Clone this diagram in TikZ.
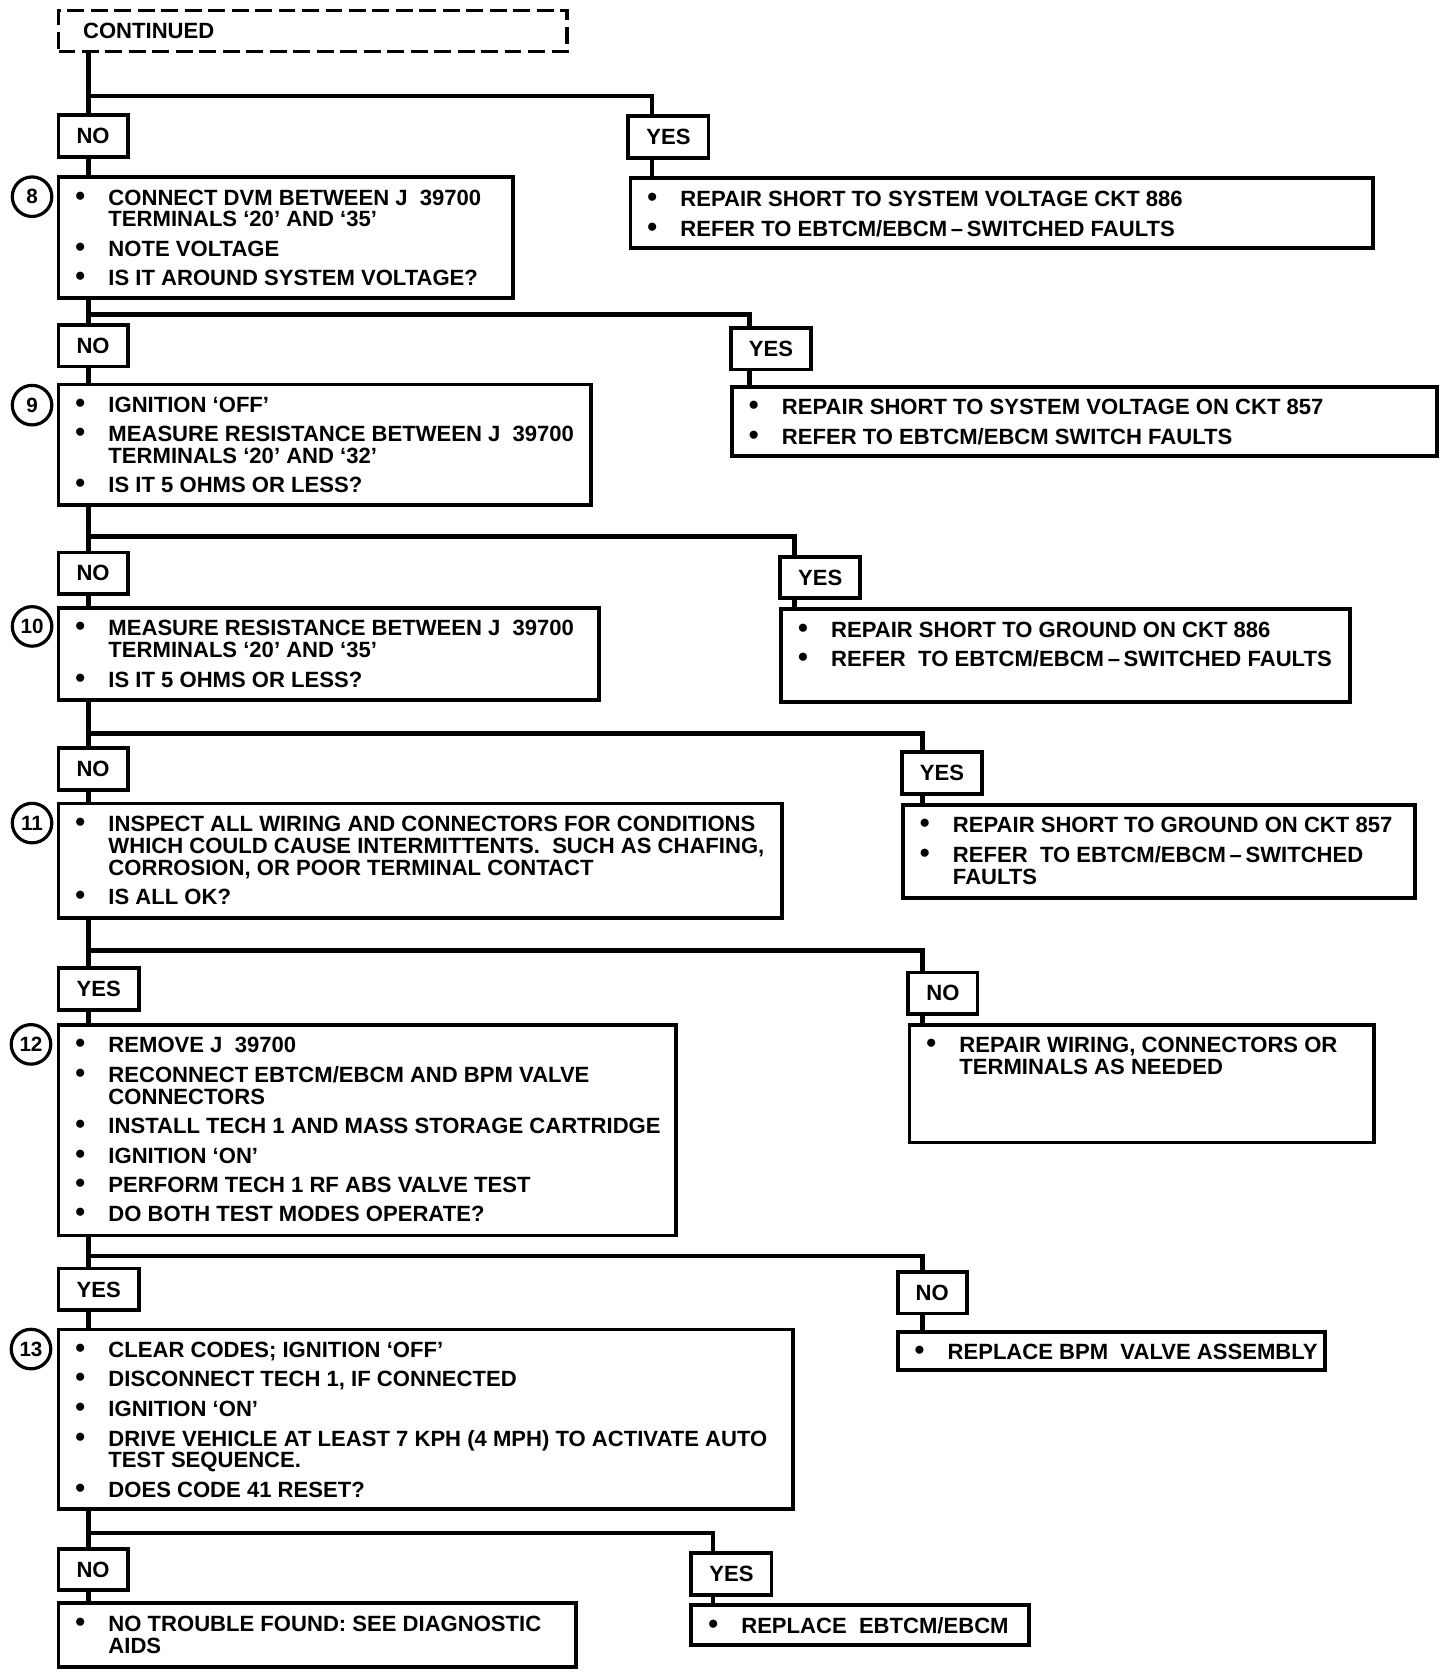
\documentclass[tikz,border=0pt]{standalone}
\usepackage{fontspec}
\setmainfont{Liberation Sans}
\usepackage{tikz}

\newcommand{\bul}{\makebox[17.6pt][l]{\fontsize{15}{11.34}\selectfont\textbullet}}
\newcommand{\boxtext}[3]{\parbox[c][#2][t]{#1}{\vspace*{6.7pt}\noindent\begin{tabular}[t]{@{\hspace{9pt}}l@{}l@{}}#3\end{tabular}}}

\tikzset{
  every node/.style={font=\fontsize{11.75}{11.34}\selectfont\bfseries},
  stepbox/.style={draw, line width=2pt, inner sep=0pt, anchor=north west},
  answer/.style={draw, line width=2pt, inner xsep=9.6pt, inner ysep=0pt, minimum height=0.78cm, anchor=north west},
  contbox/.style={draw, dash pattern=on 9pt off 3.5pt, line width=2pt, anchor=north west, text width=8.6cm, inner xsep=0.46cm, minimum height=0.77cm, align=left},
  stepnum/.style={draw, circle, line width=1.7pt, inner sep=0pt, minimum size=0.74cm, font=\fontsize{11}{11}\selectfont\bfseries},
  flow/.style={line width=2.4pt}
}

\begin{document}
\begin{tikzpicture}[x=0.02cm,y=-0.02cm]
  \useasboundingbox (0,0) rectangle (1362,1566);
  \node[contbox] (cont) at (53,8) {CONTINUED};
  % step 8
  \node[answer] (no8) at (53,106) {NO};
  \node[answer] (yes8) at (586,107) {YES};
  \node[stepnum] (n8) at (30,184) {8};
  \node[stepbox] (s8) at (53,164) {\boxtext{8.5cm}{2.26cm}{\bul & CONNECT DVM BETWEEN J\ \ 39700\\ & TERMINALS `20' AND `35'\\[4pt] \bul & NOTE VOLTAGE\\[4pt] \bul & IS IT AROUND SYSTEM VOLTAGE?}};
  \node[stepbox] (r8) at (588,165) {\boxtext{13.9cm}{1.3cm}{\bul & REPAIR SHORT TO SYSTEM VOLTAGE CKT 886\\[4pt] \bul & REFER TO EBTCM/EBCM\,--\,SWITCHED FAULTS}};
  % step 9
  \node[answer] (no9) at (53,302) {NO};
  \node[answer] (yes9) at (682,305) {YES};
  \node[stepnum] (n9) at (30,379) {9};
  \node[stepbox] (s9) at (53,358) {\boxtext{9.96cm}{2.26cm}{\bul & IGNITION `OFF'\\[4pt] \bul & MEASURE RESISTANCE BETWEEN J\ \ 39700\\ & TERMINALS `20' AND `32'\\[4pt] \bul & IS IT 5 OHMS OR LESS?}};
  \node[stepbox] (r9) at (683,360) {\boxtext{13.2cm}{1.3cm}{\bul & REPAIR SHORT TO SYSTEM VOLTAGE ON CKT 857\\[4pt] \bul & REFER TO EBTCM/EBCM SWITCH FAULTS}};
  % step 10
  \node[answer] (no10) at (53,515) {NO};
  \node[answer] (yes10) at (728,519) {YES};
  \node[stepnum] (n10) at (30,586) {10};
  \node[stepbox] (s10) at (53,567) {\boxtext{10.12cm}{1.72cm}{\bul & MEASURE RESISTANCE BETWEEN J\ \ 39700\\ & TERMINALS `20' AND `35'\\[4pt] \bul & IS IT 5 OHMS OR LESS?}};
  \node[stepbox] (r10) at (729,568) {\boxtext{10.64cm}{1.74cm}{\bul & REPAIR SHORT TO GROUND ON CKT 886\\[4pt] \bul & REFER\ \ TO EBTCM/EBCM\,--\,SWITCHED FAULTS}};
  % step 11
  \node[answer] (no11) at (53,698) {NO};
  \node[answer] (yes11) at (842,702) {YES};
  \node[stepnum] (n11) at (30,770) {11};
  \node[stepbox] (s11) at (53,750) {\boxtext{13.54cm}{2.14cm}{\bul & INSPECT ALL WIRING AND CONNECTORS FOR CONDITIONS\\ & WHICH COULD CAUSE INTERMITTENTS.\ \ SUCH AS CHAFING,\\ & CORROSION, OR POOR TERMINAL CONTACT\\[4pt] \bul & IS ALL OK?}};
  \node[stepbox] (r11) at (843,751) {\boxtext{9.58cm}{1.74cm}{\bul & REPAIR SHORT TO GROUND ON CKT 857\\[4pt] \bul & REFER\ \ TO EBTCM/EBCM\,--\,SWITCHED\\ & FAULTS}};
  % step 12
  \node[answer] (yes12) at (53,904) {YES};
  \node[answer] (no12) at (848,908) {NO};
  \node[stepnum] (n12) at (29,977) {12};
  \node[stepbox] (s12) at (53,957) {\boxtext{11.56cm}{3.94cm}{\bul & REMOVE J\ \ 39700\\[4pt] \bul & RECONNECT EBTCM/EBCM AND BPM VALVE\\ & CONNECTORS\\[4pt] \bul & INSTALL TECH 1 AND MASS STORAGE CARTRIDGE\\[4pt] \bul & IGNITION `ON'\\[4pt] \bul & PERFORM TECH 1 RF ABS VALVE TEST\\[4pt] \bul & DO BOTH TEST MODES OPERATE?}};
  \node[stepbox] (r12) at (849,957) {\boxtext{8.7cm}{2.2cm}{\bul & REPAIR WIRING, CONNECTORS OR\\ & TERMINALS AS NEEDED}};
  % step 13
  \node[answer] (yes13) at (53,1185) {YES};
  \node[answer] (no13) at (838,1188) {NO};
  \node[stepnum] (n13) at (29,1262) {13};
  \node[stepbox] (s13) at (53,1242) {\boxtext{13.74cm}{3.36cm}{\bul & CLEAR CODES; IGNITION `OFF'\\[4pt] \bul & DISCONNECT TECH 1, IF CONNECTED\\[4pt] \bul & IGNITION `ON'\\[4pt] \bul & DRIVE VEHICLE AT LEAST 7 KPH (4 MPH) TO ACTIVATE AUTO\\ & TEST SEQUENCE.\\[4pt] \bul & DOES CODE 41 RESET?}};
  \node[stepbox] (r13) at (838,1244) {\boxtext{8.0cm}{0.72cm}{\bul & REPLACE BPM\ \ VALVE ASSEMBLY}};
  % last answers
  \node[answer] (no14) at (53,1447) {NO};
  \node[answer] (yes14) at (645,1451) {YES};
  \node[stepbox] (rno) at (53,1498) {\boxtext{9.68cm}{1.2cm}{\bul & NO TROUBLE FOUND: SEE DIAGNOSTIC\\ & AIDS}};
  \node[stepbox] (ryes) at (645,1500) {\boxtext{6.32cm}{0.74cm}{\bul & REPLACE\ \ EBTCM/EBCM}};
  % junctions
  \coordinate (j1) at (83,90);   \coordinate (k1) at (610,90);
  \coordinate (j2) at (83,294);  \coordinate (k2) at (701,294);
  \coordinate (j3) at (83,502);  \coordinate (k3) at (743,502);
  \coordinate (j4) at (83,686);  \coordinate (k4) at (863,686);
  \coordinate (j5) at (83,889);  \coordinate (k5) at (863,889);
  \coordinate (j6) at (83,1175); \coordinate (k6) at (863,1175);
  \coordinate (j7) at (83,1434); \coordinate (k7) at (667,1434);
  % trunk and branches
  \draw[flow] (cont.south -| j1) -- (no8.north -| j1);
  \draw[flow] (j1) -- (k1) -- (yes8.north -| k1);
  \draw[flow] (no8.south -| j1) -- (s8.north -| j1);
  \draw[flow] (yes8.south -| k1) -- (r8.north -| k1);
  \draw[flow] (s8.south -| j2) -- (no9.north -| j2);
  \draw[flow] (j2) -- (k2) -- (yes9.north -| k2);
  \draw[flow] (no9.south -| j2) -- (s9.north -| j2);
  \draw[flow] (yes9.south -| k2) -- (r9.north -| k2);
  \draw[flow] (s9.south -| j3) -- (no10.north -| j3);
  \draw[flow] (j3) -- (k3) -- (yes10.north -| k3);
  \draw[flow] (no10.south -| j3) -- (s10.north -| j3);
  \draw[flow] (yes10.south -| k3) -- (r10.north -| k3);
  \draw[flow] (s10.south -| j4) -- (no11.north -| j4);
  \draw[flow] (j4) -- (k4) -- (yes11.north -| k4);
  \draw[flow] (no11.south -| j4) -- (s11.north -| j4);
  \draw[flow] (yes11.south -| k4) -- (r11.north -| k4);
  \draw[flow] (s11.south -| j5) -- (yes12.north -| j5);
  \draw[flow] (j5) -- (k5) -- (no12.north -| k5);
  \draw[flow] (yes12.south -| j5) -- (s12.north -| j5);
  \draw[flow] (no12.south -| k5) -- (r12.north -| k5);
  \draw[flow] (s12.south -| j6) -- (yes13.north -| j6);
  \draw[flow] (j6) -- (k6) -- (no13.north -| k6);
  \draw[flow] (yes13.south -| j6) -- (s13.north -| j6);
  \draw[flow] (no13.south -| k6) -- (r13.north -| k6);
  \draw[flow] (s13.south -| j7) -- (no14.north -| j7);
  \draw[flow] (j7) -- (k7) -- (yes14.north -| k7);
  \draw[flow] (no14.south -| j7) -- (rno.north -| j7);
  \draw[flow] (yes14.south -| k7) -- (ryes.north -| k7);
\end{tikzpicture}
\end{document}
